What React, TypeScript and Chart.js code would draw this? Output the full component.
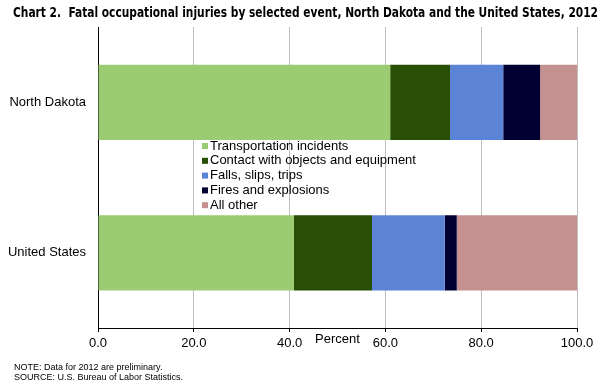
import { useEffect, useRef } from "react";
import { Chart, registerables } from "chart.js";

Chart.register(...registerables);

const titleText =
  "Chart 2.  Fatal occupational injuries by selected event, North Dakota and the United States, 2012";
const categories = ["North Dakota", "United States"];
const seriesNames = [
  "Transportation incidents",
  "Contact with objects and equipment",
  "Falls, slips, trips",
  "Fires and explosions",
  "All other",
];
const transportation = [61.0, 40.9];
const contact = [12.5, 16.3];
const falls = [11.1, 15.2];
const fires = [7.7, 2.5];
const allOther = [7.7, 25.1];
const seriesValues = [transportation, contact, falls, fires, allOther];
const seriesColors = ["#9BCB72", "#294E06", "#5B84D6", "#000033", "#C49190"];
const xTickValues = [0, 20, 40, 60, 80, 100];
const axisTitle = "Percent";
const notes = [
  "NOTE: Data for 2012 are preliminary.",
  "SOURCE: U.S. Bureau of Labor Statistics.",
];

const ARIAL = '"Liberation Sans", Arial, sans-serif';

const overlayPlugin = {
  id: "overlay",
  beforeDraw(chart: any) {
    const ctx = chart.ctx;
    ctx.save();
    ctx.fillStyle = "#ffffff";
    ctx.fillRect(0, 0, chart.width, chart.height);
    ctx.restore();
  },
  afterDraw(chart: any) {
    const ctx = chart.ctx;
    const area = chart.chartArea;
    ctx.save();
    // title
    ctx.fillStyle = "#000000";
    ctx.textBaseline = "middle";
    ctx.textAlign = "left";
    ctx.font = 'bold 14px "DejaVu Sans Condensed", "Liberation Sans Narrow", sans-serif';
    ctx.fillText(titleText, 13, 13, 585);

    // legend inside the plot
    ctx.font = "13px " + ARIAL;
    const lx = 202;
    const ly = 146;
    const step = 14.8;
    chart.data.datasets.forEach((ds: any, i: number) => {
      const y = ly + i * step;
      ctx.fillStyle = ds.backgroundColor;
      ctx.fillRect(lx, y - 3, 6, 6);
      ctx.fillStyle = "#000000";
      ctx.fillText(ds.label, lx + 8, y);
    });

    // axis title
    const xs = chart.scales.x;
    ctx.textAlign = "center";
    ctx.font = "13px " + ARIAL;
    ctx.fillText(axisTitle, (xs.getPixelForValue(40) + xs.getPixelForValue(60)) / 2, area.bottom + 11);

    // notes
    ctx.textAlign = "left";
    ctx.font = "9px " + ARIAL;
    notes.forEach((n, i) => {
      ctx.fillText(n, 14, 368 + i * 10);
    });
    ctx.restore();
  },
};

export default function App() {
  const canvasRef = useRef<HTMLCanvasElement | null>(null);

  useEffect(() => {
    if (!canvasRef.current) return;
    const chart = new Chart(canvasRef.current, {
      type: "bar",
      data: {
        labels: categories,
        datasets: seriesNames.map((name, i) => ({
          label: name,
          data: seriesValues[i],
          backgroundColor: seriesColors[i],
          borderWidth: 0,
          barPercentage: 1,
          categoryPercentage: 0.5,
        })),
      },
      options: {
        indexAxis: "y",
        animation: false,
        responsive: false,
        maintainAspectRatio: false,
        layout: { padding: { left: 0, right: 27, top: 27, bottom: 0 } },
        plugins: {
          legend: { display: false },
          title: { display: false },
          tooltip: { enabled: false },
        },
        scales: {
          x: {
            stacked: true,
            min: 0,
            max: 100,
            afterBuildTicks: (scale: any) => {
              scale.ticks = xTickValues.map((v) => ({ value: v }));
            },
            afterFit: (scale: any) => {
              scale.height = 62;
            },
            grid: {
              color: "#BFBFBF",
              tickColor: "#000000",
              tickLength: 4,
              lineWidth: 1,
            },
            border: { display: true, color: "#000000", width: 1 },
            ticks: {
              color: "#000000",
              font: { size: 13, family: ARIAL },
              padding: 4,
              maxRotation: 0,
              callback: (v: any) => Number(v).toFixed(1),
            },
          },
          y: {
            stacked: true,
            afterFit: (scale: any) => {
              scale.width = 98;
            },
            grid: { display: false, drawTicks: false },
            border: { display: true, color: "#000000", width: 1 },
            ticks: {
              color: "#000000",
              font: { size: 13, family: ARIAL },
              padding: 12,
            },
          },
        },
      } as any,
      plugins: [overlayPlugin],
    });
    return () => chart.destroy();
  }, []);

  return (
    <div style={{ position: "fixed", left: 0, top: 0, width: 604, height: 390, background: "#fff" }}>
      <canvas ref={canvasRef} width={604} height={390} style={{ width: 604, height: 390, display: "block" }} />
    </div>
  );
}
